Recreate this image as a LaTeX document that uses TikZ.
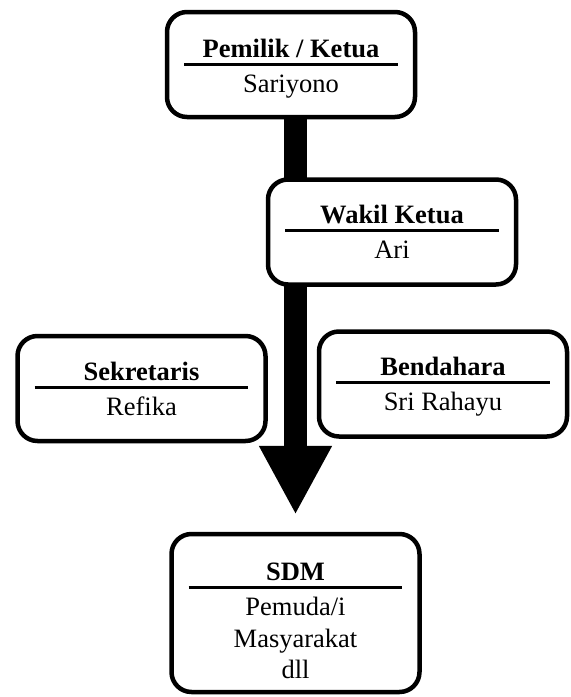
\documentclass[tikz,border=0pt]{standalone}
\usepackage{fontspec}
\setmainfont{Liberation Serif}
\usetikzlibrary{arrows.meta,backgrounds}

\newcommand{\garis}{\rule{107pt}{1.5pt}}

\begin{document}
\begin{tikzpicture}[x=0.5pt,y=-0.5pt,
    jabatan/.style={draw, fill=white, line width=2.25pt, rounded corners=10pt,
        minimum width=124pt, minimum height=52.5pt, inner sep=0pt,
        align=center, font=\fontsize{13.25}{15.75}\selectfont}]
    \useasboundingbox (0,0) rectangle (571,697);

    % Draw the boxes
    \node[jabatan] (ketua) at (291,64.5) {\rule{0pt}{13pt}\textbf{Pemilik / Ketua}\\[-11.5pt]\garis\\[-2.5pt]Sariyono};
    \node[jabatan] (wakil) at (392,232) {\textbf{Wakil Ketua}\\[-11.5pt]\garis\\[-2.5pt]Ari};
    \node[jabatan] (sekretaris) at (141.5,388.5) {\textbf{Sekretaris}\\[-11.5pt]\garis\\[-2.5pt]Refika};
    \node[jabatan] (bendahara) at (443,384) {\rule{0pt}{12pt}\textbf{Bendahara}\\[-11.5pt]\garis\\[-2.5pt]Sri Rahayu};
    \node[jabatan, minimum height=79pt] (sdm) at (295.5,613) {\rule{0pt}{17pt}\textbf{SDM}\\[-11.5pt]\garis\\[-2.5pt]Pemuda/i\\Masyarakat\\dll};

    % Draw the big arrow behind the boxes
    \begin{scope}[on background layer]
        \draw[line width=11.5pt, -{Triangle[length=34.5pt,width=34pt]}, shorten >=8.5pt] (sdm.north |- ketua.center) -- (sdm.north);
    \end{scope}
\end{tikzpicture}
\end{document}
